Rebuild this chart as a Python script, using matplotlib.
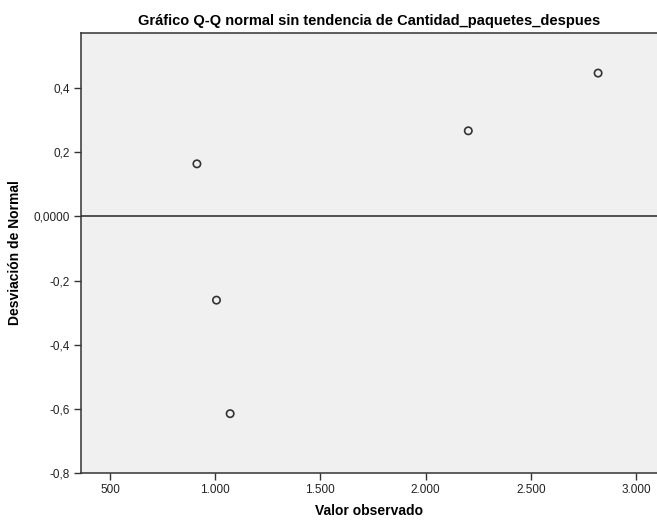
import numpy as np
import matplotlib.pyplot as plt

plt.rcParams['font.family'] = ['Liberation Sans', 'DejaVu Sans']

# Data
observed = [913, 1006, 1071, 2203, 2820]
deviation = [0.164, -0.261, -0.615, 0.267, 0.447]

xticks = [500, 1000, 1500, 2000, 2500, 3000]
xtick_labels = ['500', '1.000', '1.500', '2.000', '2.500', '3.000']
yticks = [-0.8, -0.6, -0.4, -0.2, 0.0, 0.2, 0.4]
ytick_labels = ['-0,8', '-0,6', '-0,4', '-0,2', '0,0000', '0,2', '0,4']

fig = plt.figure(figsize=(6.57, 5.2), dpi=100)
ax = fig.add_axes([81/657, 47/520, 576/657, 440/520])
ax.set_facecolor('#f0f0f0')

ax.axhline(0, color='#444444', linewidth=1.3, zorder=1)
ax.scatter(observed, deviation, s=28, facecolor='none',
           edgecolor='#333333', linewidth=1.2, zorder=3)

ax.set_xlim(362, 3100)
ax.set_ylim(-0.8, 0.572)

ax.set_xticks(xticks)
ax.set_xticklabels(xtick_labels)
ax.set_yticks(yticks)
ax.set_yticklabels(ytick_labels)
ax.tick_params(axis='both', direction='out', length=5, width=1,
               color='#333333', labelsize=8.5, labelcolor='#222222', pad=3)

for side in ['left', 'bottom', 'top']:
    ax.spines[side].set_color('#333333')
    ax.spines[side].set_linewidth(1.1)
ax.spines['right'].set_visible(False)

ax.set_title('Gráfico Q-Q normal sin tendencia de Cantidad_paquetes_despues',
             fontsize=10.5, fontweight='bold', pad=6)
ax.set_xlabel('Valor observado', fontsize=10, fontweight='bold', labelpad=6)
ax.set_ylabel('Desviación de Normal', fontsize=10, fontweight='bold', labelpad=8)

fig.savefig('out.png', dpi=100)
